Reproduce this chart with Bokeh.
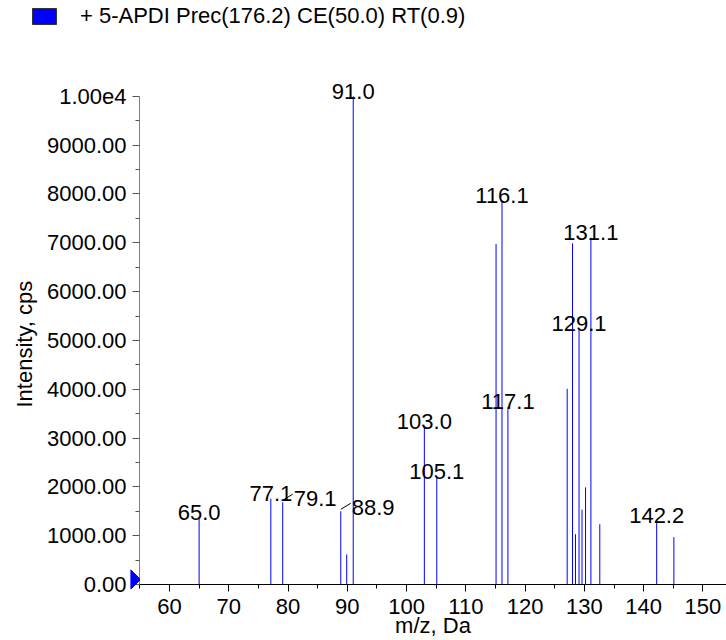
from bokeh.plotting import figure
from bokeh.models import (ColumnDataSource, Range1d, FixedTicker, LinearAxis,
                          Legend, LegendItem, Title)
from bokeh.embed import file_html
from bokeh.resources import INLINE
from bokeh.core.properties import value

# ---- data ----
peak_mz = [65.0, 77.1, 79.1, 88.9, 89.9, 91.0, 103.0, 105.1, 115.1, 116.1, 117.1,
           127.1, 128.0, 128.5, 129.1, 129.6, 130.2, 131.1, 132.6, 142.2, 145.1]
peak_intensity = [1380, 1760, 1685, 1500, 615, 10000, 3230, 2220, 6975, 7865, 3640,
                  4010, 6990, 1030, 5245, 1535, 1990, 7105, 1235, 1320, 970]

centered_labels = ["65.0", "77.1", "91.0", "103.0", "105.1", "116.1", "117.1",
                   "129.1", "131.1", "142.2"]
offset_labels = ["79.1", "88.9"]

x_ticks = [60, 70, 80, 90, 100, 110, 120, 130, 140, 150]
x_minor_ticks = [55, 65, 75, 85, 95, 105, 115, 125, 135, 145, 155]
y_ticks = [0, 1000, 2000, 3000, 4000, 5000, 6000, 7000, 8000, 9000, 10000]
y_tick_labels = ["0.00", "1000.00", "2000.00", "3000.00", "4000.00", "5000.00",
                 "6000.00", "7000.00", "8000.00", "9000.00", "1.00e4"]
y_minor_ticks = [500, 1500, 2500, 3500, 4500, 5500, 6500, 7500, 8500, 9500]

legend_label = "+ 5-APDI Prec(176.2) CE(50.0) RT(0.9)"
x_title = "m/z, Da"
y_title = "Intensity, cps"

# ---- geometry / style ----
FONT = "Liberation Sans"
FS = "22px"
W = 726
H_TOP = 40
H = 640 - H_TOP
X0, X1 = 54.94, 153.98
Y0, Y1 = 0, 11000
BL, BR, BT, BB = 139, 0, 7, 56

# ---- legend strip (top) ----
top = figure(width=W, height=H_TOP, output_backend="svg", toolbar_location=None,
             title=None, x_range=Range1d(0, W), y_range=Range1d(0, H_TOP),
             x_axis_type=None, y_axis_type=None,
             min_border_left=0, min_border_right=0, min_border_top=0, min_border_bottom=0)
top.outline_line_color = None
top.background_fill_color = "white"

# series swatch renderer (kept outside the visible strip; only its legend entry shows)
swatch = top.quad(left=[-20], right=[-10], top=[-10], bottom=[-20], fill_color="#0000ff",
                  line_color="#333333", line_width=1)
legend = Legend(items=[LegendItem(label=value(legend_label), renderers=[swatch])],
                location=(29, H_TOP - 0 - 31),
                glyph_width=30, glyph_height=20, label_height=31,
                label_standoff=21, padding=0, spacing=0, margin=0,
                border_line_alpha=0, background_fill_alpha=0,
                label_text_font=FONT, label_text_font_size=FS,
                label_text_baseline="hanging",
                label_text_color="black")
top.add_layout(legend)

# ---- spectrum ----
p = figure(width=W, height=H, output_backend="svg", toolbar_location=None,
           title=None,
           x_range=Range1d(X0, X1), y_range=Range1d(Y0, Y1),
           x_axis_type=None, y_axis_type=None,
           min_border_left=BL, min_border_right=BR,
           min_border_top=BT, min_border_bottom=BB)
p.outline_line_color = None
p.background_fill_color = "white"

xpx = (X1 - X0) / (W - BL - BR)   # data units per pixel
ypx = (Y1 - Y0) / (H - BT - BB)

xaxis = LinearAxis(ticker=FixedTicker(ticks=x_ticks, minor_ticks=x_minor_ticks),
                   axis_label=x_title)
xaxis.axis_line_color = "black"
xaxis.major_tick_line_color = "black"
xaxis.minor_tick_line_color = "black"
xaxis.major_tick_in = 0
xaxis.major_tick_out = 7
xaxis.minor_tick_in = 0
xaxis.minor_tick_out = 4
xaxis.major_label_standoff = 7
xaxis.axis_label_standoff = -4
xaxis.major_label_text_font = FONT
xaxis.major_label_text_font_size = FS
xaxis.major_label_text_color = "black"
xaxis.axis_label_text_font = FONT
xaxis.axis_label_text_font_size = FS
xaxis.axis_label_text_font_style = "normal"
xaxis.axis_label_text_color = "black"
p.add_layout(xaxis, "below")

yaxis = LinearAxis(ticker=FixedTicker(ticks=y_ticks, minor_ticks=y_minor_ticks),
                   bounds=(y_ticks[0], y_ticks[-1]))
yaxis.major_label_overrides = {t: s for t, s in zip(y_ticks, y_tick_labels)}
yaxis.axis_line_color = "#808080"
yaxis.major_tick_line_color = "#555555"
yaxis.minor_tick_line_color = "#555555"
yaxis.major_tick_in = 0
yaxis.major_tick_out = 7
yaxis.minor_tick_in = 0
yaxis.minor_tick_out = 4
yaxis.major_label_standoff = 6
yaxis.major_label_text_font = FONT
yaxis.major_label_text_font_size = FS
yaxis.major_label_text_color = "black"
p.add_layout(yaxis, "left")

# y-axis title, centred on the 0..1e4 span of the axis
ytitle = Title(text=y_title, align="left", offset=177, standoff=13,
               text_font=FONT, text_font_size=FS, text_font_style="normal",
               text_color="black")
p.add_layout(ytitle, "left")

# peaks
peaks = ColumnDataSource(dict(mz=peak_mz, base=[0] * len(peak_mz), inten=peak_intensity))
p.segment(x0="mz", y0="base", x1="mz", y1="inten", source=peaks,
          line_color="#0000ff", line_width=1)

lookup = {f"{m:.1f}": i for m, i in zip(peak_mz, peak_intensity)}

cl = ColumnDataSource(dict(x=[float(s) for s in centered_labels],
                           y=[lookup[s] for s in centered_labels],
                           t=centered_labels))
p.text(x="x", y="y", text="t", source=cl, text_align="center",
       text_baseline="alphabetic", y_offset=-5,
       text_font=value(FONT), text_font_size=value(FS), text_color="black")

ox = [float(s) for s in offset_labels]
oy = [lookup[s] for s in offset_labels]
ol = ColumnDataSource(dict(x=ox, y=oy, t=offset_labels))
p.text(x="x", y="y", text="t", source=ol, text_align="left",
       text_baseline="alphabetic", x_offset=11, y_offset=-4,
       text_font=value(FONT), text_font_size=value(FS), text_color="black")
lead = ColumnDataSource(dict(x0=ox, y0=[v + 2 * ypx for v in oy],
                             x1=[v + 10 * xpx for v in ox], y1=[v + 8 * ypx for v in oy]))
p.segment(x0="x0", y0="y0", x1="x1", y1="y1", source=lead,
          line_color="black", line_width=1)

# ---- precursor marker: small right-pointing triangle at the baseline, left of the axis ----
mark = figure(width=10, height=20, output_backend="svg", toolbar_location=None,
              title=None, x_range=Range1d(0, 1), y_range=Range1d(0, 1),
              x_axis_type=None, y_axis_type=None,
              min_border_left=0, min_border_right=0, min_border_top=0, min_border_bottom=0,
              styles={"position": "absolute", "left": "130px", "top": "569px"})
mark.outline_line_color = None
mark.background_fill_alpha = 0
mark.border_fill_alpha = 0
mark.patch(x=[0, 1, 0], y=[0, 0.5, 1], fill_color="#0000ff", line_color="#0000ff",
           line_width=1)

open("out.html", "w").write(file_html([top, p, mark], INLINE))
